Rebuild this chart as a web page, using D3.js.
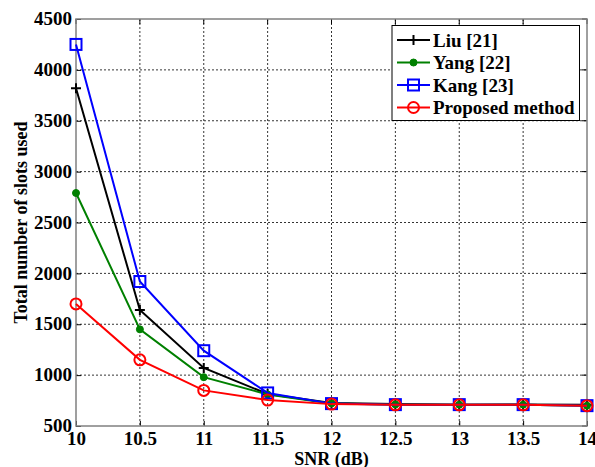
<!DOCTYPE html>
<html lang="en">
<head>
    <meta charset="UTF-8">
    <title>Total number of slots used vs SNR</title>
    <script src="https://d3js.org/d3.v7.min.js"></script>
    <style>
        body { margin: 0; background: #fff; }
        text { font-family: "Liberation Serif", "Times New Roman", serif; font-weight: bold; fill: #000; }
        .grid line { stroke: #000; stroke-width: 0.8; stroke-dasharray: 2,2; }
    </style>
</head>
<body>
    <svg width="595" height="467"></svg>
    <script>
        // data
        const snr = [10, 10.5, 11, 11.5, 12, 12.5, 13, 13.5, 14];
        const liu = [3820, 1640, 1070, 815, 725, 715, 710, 712, 710];
        const yang = [2790, 1450, 980, 810, 722, 712, 710, 710, 700];
        const kang = [4250, 1920, 1240, 825, 720, 710, 710, 710, 700];
        const proposed = [1700, 1150, 850, 755, 715, 708, 708, 708, 700];
        const xTicks = [10, 10.5, 11, 11.5, 12, 12.5, 13, 13.5, 14];
        const yTicks = [500, 1000, 1500, 2000, 2500, 3000, 3500, 4000, 4500];

        const series = [
            { name: 'Liu [21]', values: liu, color: '#000000', marker: 'plus' },
            { name: 'Yang [22]', values: yang, color: '#008000', marker: 'dot' },
            { name: 'Kang [23]', values: kang, color: '#0000ff', marker: 'square' },
            { name: 'Proposed method', values: proposed, color: '#ff0000', marker: 'circle' }
        ];

        const svg = d3.select('svg');
        const pL = 76, pR = 587, pT = 19, pB = 426;

        const x = d3.scaleLinear().domain([10, 14]).range([pL, pR]);
        const y = d3.scaleLinear().domain([500, 4500]).range([pB, pT]);

        // grid
        const grid = svg.append('g').attr('class', 'grid');
        grid.selectAll('.gx').data(xTicks.slice(1, -1)).enter().append('line')
            .attr('x1', d => x(d)).attr('x2', d => x(d))
            .attr('y1', pT).attr('y2', pB);
        grid.selectAll('.gy').data(yTicks.slice(1, -1)).enter().append('line')
            .attr('x1', pL).attr('x2', pR)
            .attr('y1', d => y(d)).attr('y2', d => y(d));

        // axes (ticks inward, like matlab)
        const xAxis = svg.append('g').attr('transform', `translate(0,${pB})`)
            .call(d3.axisBottom(x).tickValues(xTicks).tickSize(-5).tickPadding(0).tickFormat(d3.format('')));
        const yAxis = svg.append('g').attr('transform', `translate(${pL},0)`)
            .call(d3.axisLeft(y).tickValues(yTicks).tickSize(-5).tickPadding(4).tickFormat(d3.format('')));
        [xAxis, yAxis].forEach(a => {
            a.select('.domain').remove();
            a.selectAll('line').attr('stroke', '#000');
            a.selectAll('text').style('font-size', '19px');
        });
        xAxis.selectAll('text').attr('y', 19).attr('dy', null);
        yAxis.selectAll('text').attr('dy', '0.3em');
        // top/right ticks
        svg.append('g').selectAll('line').data(xTicks).enter().append('line')
            .attr('x1', d => x(d)).attr('x2', d => x(d)).attr('y1', pT).attr('y2', pT + 5).attr('stroke', '#000');
        svg.append('g').selectAll('line').data(yTicks).enter().append('line')
            .attr('x1', pR).attr('x2', pR - 5).attr('y1', d => y(d)).attr('y2', d => y(d)).attr('stroke', '#000');

        // frame
        svg.append('rect')
            .attr('x', pL).attr('y', pT).attr('width', pR - pL).attr('height', pB - pT)
            .attr('fill', 'none').attr('stroke', '#808080').attr('stroke-width', 1.5);

        // marker drawing
        function drawMarker(g, type, color) {
            if (type === 'plus') {
                g.append('path').attr('d', 'M-5,0H5M0,-5V5').attr('stroke', color).attr('stroke-width', 2).attr('fill', 'none');
            } else if (type === 'dot') {
                g.append('circle').attr('r', 3.5).attr('fill', color).attr('stroke', color);
            } else if (type === 'square') {
                g.append('rect').attr('x', -5.5).attr('y', -5.5).attr('width', 11).attr('height', 11)
                    .attr('fill', 'none').attr('stroke', color).attr('stroke-width', 2);
            } else {
                g.append('circle').attr('r', 5.5).attr('fill', 'none').attr('stroke', color).attr('stroke-width', 2);
            }
        }

        const line = d3.line().x((d, i) => x(snr[i])).y(d => y(d));

        series.forEach(s => {
            const g = svg.append('g');
            g.append('path').datum(s.values).attr('d', line)
                .attr('fill', 'none').attr('stroke', s.color).attr('stroke-width', 2);
            g.selectAll('.m').data(s.values).enter().append('g')
                .attr('transform', (d, i) => `translate(${x(snr[i])},${y(d)})`)
                .each(function () { drawMarker(d3.select(this), s.marker, s.color); });
        });

        // legend
        const lg = svg.append('g');
        lg.append('rect').attr('x', 392).attr('y', 25.5).attr('width', 187.5).attr('height', 95)
            .attr('fill', '#fff').attr('stroke', '#000').attr('stroke-width', 1);
        series.forEach((s, i) => {
            const cy = 40 + i * 22.5;
            const row = lg.append('g');
            row.append('line').attr('x1', 397).attr('x2', 430).attr('y1', cy).attr('y2', cy)
                .attr('stroke', s.color).attr('stroke-width', 2);
            const m = row.append('g').attr('transform', `translate(413.5,${cy})`);
            drawMarker(m, s.marker, s.color);
            row.append('text').attr('x', 433).attr('y', cy).attr('dy', '0.35em')
                .style('font-size', '19px').text(s.name);
        });

        // axis titles
        svg.append('text').attr('x', (pL + pR) / 2).attr('y', 465)
            .attr('text-anchor', 'middle').style('font-size', '18px').text('SNR (dB)');
        svg.append('text').attr('transform', `translate(27,${(pT + pB) / 2}) rotate(-90)`)
            .attr('text-anchor', 'middle').style('font-size', '18px').text('Total number of slots used');
    </script>
</body>
</html>
